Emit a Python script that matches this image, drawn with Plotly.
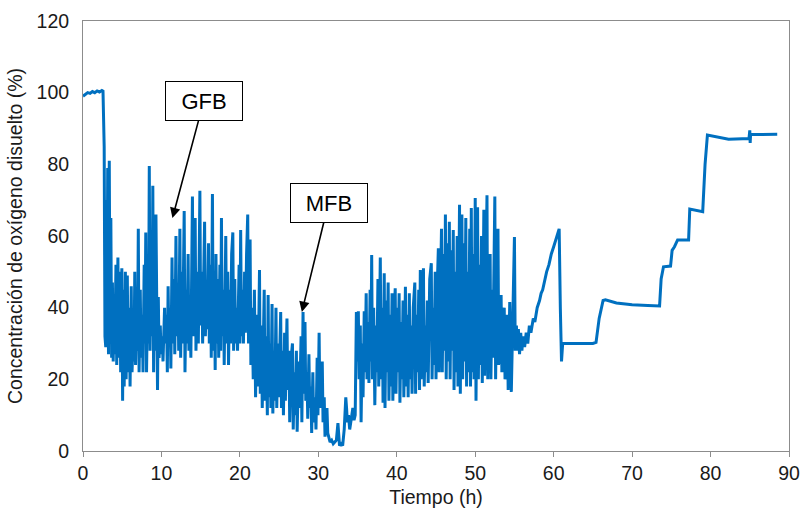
import plotly.graph_objects as go

tiempo_h = [
    0.0, 0.3, 0.6, 0.9, 1.2, 1.5, 1.8, 2.1, 2.4, 2.55, 2.7, 2.8, 2.9, 3.0, 3.05, 3.15, 3.25, 3.35, 3.45, 3.55,
    3.65, 3.75, 3.85, 3.95, 4.05, 4.2, 4.3, 4.45, 4.55, 4.7, 4.8, 4.95, 5.05, 5.15, 5.25, 5.4, 5.5, 5.65, 5.75, 5.9,
    6.0, 6.15, 6.25, 6.4, 6.5, 6.6, 6.7, 6.85, 6.95, 7.05, 7.15, 7.3, 7.4, 7.55, 7.65, 7.8, 7.9, 8.0, 8.1, 8.25,
    8.35, 8.45, 8.55, 8.7, 8.8, 8.9, 9.0, 9.1, 9.2, 9.3, 9.4, 9.5, 9.6, 9.7, 9.85, 9.95, 10.1, 10.2, 10.4, 10.5,
    10.65, 10.75, 10.85, 10.95, 11.1, 11.2, 11.35, 11.45, 11.6, 11.7, 11.85, 11.95, 12.1, 12.2, 12.35, 12.45, 12.6, 12.7, 12.9, 13.0,
    13.15, 13.25, 13.4, 13.5, 13.65, 13.75, 13.95, 14.05, 14.2, 14.3, 14.4, 14.6, 14.7, 14.9, 15.0, 15.15, 15.25, 15.5, 15.6, 15.75,
    15.85, 16.0, 16.1, 16.25, 16.35, 16.5, 16.6, 16.75, 16.85, 16.95, 17.05, 17.2, 17.3, 17.45, 17.55, 17.65, 17.75, 17.9, 18.0, 18.2,
    18.3, 18.45, 18.55, 18.7, 18.8, 18.95, 19.1, 19.2, 19.35, 19.45, 19.6, 19.7, 19.9, 20.0, 20.1, 20.2, 20.35, 20.45, 20.6, 20.7,
    20.85, 21.0, 21.1, 21.3, 21.4, 21.55, 21.7, 21.85, 22.0, 22.15, 22.3, 22.5, 22.6, 22.75, 22.85, 23.1, 23.2, 23.35, 23.5, 23.6,
    23.7, 23.85, 23.95, 24.1, 24.2, 24.35, 24.45, 24.6, 24.7, 24.85, 24.95, 25.2, 25.3, 25.45, 25.55, 25.7, 25.8, 26.0, 26.1, 26.25,
    26.35, 26.5, 26.7, 26.8, 26.95, 27.05, 27.2, 27.3, 27.5, 27.6, 27.8, 27.9, 28.05, 28.15, 28.3, 28.4, 28.55, 28.65, 28.8, 28.9,
    29.05, 29.15, 29.3, 29.4, 29.6, 29.7, 29.85, 29.95, 30.1, 30.2, 30.35, 30.5, 30.6, 30.75, 30.85, 31.0, 31.1, 31.2, 31.35, 31.5,
    31.7, 31.9, 32.1, 32.3, 32.5, 32.6, 32.7, 32.9, 33.1, 33.3, 33.5, 33.6, 33.7, 33.85, 34.0, 34.2, 34.4, 34.55, 34.7, 34.85,
    34.95, 35.1, 35.2, 35.35, 35.45, 35.6, 35.7, 35.85, 35.95, 36.1, 36.2, 36.35, 36.45, 36.6, 36.7, 36.8, 36.9, 37.05, 37.2, 37.35,
    37.45, 37.6, 37.7, 37.9, 38.0, 38.15, 38.25, 38.4, 38.5, 38.65, 38.75, 38.9, 39.0, 39.15, 39.25, 39.4, 39.5, 39.65, 39.8, 39.9,
    40.05, 40.15, 40.3, 40.4, 40.55, 40.65, 40.8, 40.9, 41.1, 41.2, 41.35, 41.45, 41.6, 41.7, 41.85, 41.95, 42.1, 42.3, 42.4, 42.55,
    42.65, 42.8, 42.9, 43.0, 43.1, 43.25, 43.4, 43.5, 43.65, 43.75, 43.9, 44.0, 44.2, 44.4, 44.5, 44.65, 44.75, 44.9, 45.0, 45.15,
    45.3, 45.4, 45.55, 45.7, 45.8, 45.95, 46.05, 46.2, 46.3, 46.45, 46.55, 46.7, 46.8, 46.95, 47.05, 47.2, 47.3, 47.45, 47.55, 47.7,
    47.8, 48.0, 48.1, 48.2, 48.3, 48.4, 48.55, 48.65, 48.8, 48.9, 49.05, 49.15, 49.3, 49.4, 49.5, 49.6, 49.75, 49.85, 50.0, 50.1,
    50.3, 50.4, 50.55, 50.65, 50.8, 50.9, 51.1, 51.2, 51.35, 51.5, 51.6, 51.75, 51.9, 52.0, 52.15, 52.25, 52.5, 52.6, 52.75, 52.9,
    53.0, 53.15, 53.3, 53.4, 53.55, 53.7, 53.8, 53.95, 54.1, 54.2, 54.4, 54.6, 54.8, 55.0, 55.1, 55.25, 55.35, 55.5, 55.65, 55.8,
    55.95, 56.1, 56.3, 56.5, 56.7, 56.9, 57.1, 57.4, 57.6, 57.9, 58.2, 58.4, 58.6, 58.9, 59.1, 59.4, 59.7, 60.0, 60.3, 60.5,
    60.7, 60.85, 61.0, 61.15, 62.0, 63.0, 64.0, 65.0, 65.4, 65.8, 66.3, 66.6, 68.0, 70.0, 72.0, 73.5, 73.7, 74.0, 74.9, 75.1,
    75.4, 75.8, 77.2, 77.35, 79.0, 79.3, 79.6, 80.5, 82.3, 84.9, 85.0, 85.05, 85.1, 88.5,
]

oxigeno_pct = [
    99.0, 99.6, 100.0, 99.8, 100.3, 100.0, 100.5, 100.2, 100.6, 100.4, 85, 32, 29, 70, 30, 79, 27, 81, 30, 65,
    26, 47, 25, 40, 27, 52, 24, 54, 26, 50, 22, 51, 14, 45, 18, 50, 20, 49, 22, 40,
    18, 46, 22, 33, 25, 50, 24, 40, 28, 62, 22, 45, 26, 38, 22, 52, 30, 61, 22, 45,
    30, 79.5, 28, 55, 32, 74, 22, 50, 28, 66, 30, 17, 43, 26, 35, 27, 32, 25, 40, 30,
    38, 22, 46, 30, 40, 23, 54, 30, 48, 27, 60, 32, 45, 28, 62, 26, 50, 30, 67, 22,
    45, 30, 55, 28, 40, 26, 71, 32, 45, 65, 28, 50, 30, 72.6, 35, 50, 30, 64, 32, 45,
    34, 58, 30, 52, 26, 71.7, 28, 45, 22.6, 55, 30, 48, 26, 52, 28, 65, 32, 45, 24, 60,
    30, 50, 24, 45, 30, 55, 61, 28, 48, 30, 40, 28, 52, 30, 61.7, 32, 45, 30, 50, 33,
    55, 66, 30, 59, 24, 40, 20, 45, 15, 38, 18, 50.5, 16, 35, 12, 45, 14, 32, 10, 43.5,
    15, 30, 12, 41, 10.5, 28, 14, 40, 12, 30, 15, 38.8, 12, 28, 10, 33, 14, 37, 17, 28,
    8, 25, 30, 6, 22, 10, 28, 5.4, 25, 12, 32, 8, 38.8, 16, 36, 14, 22, 9, 27, 12,
    18, 5, 22, 8, 15, 6, 26, 10, 33, 12, 20, 25, 8, 15, 4, 10, 12, 5, 4, 2.5,
    3, 2, 2.5, 3, 7.8, 3, 1.5, 2, 1.5, 6, 15, 12, 8, 10, 6, 9, 12, 8.6, 10, 38.8,
    25, 39, 20, 35, 8, 30, 15, 39, 22, 44, 20, 36, 19, 45, 25, 54.7, 20, 40, 12.8, 35,
    22, 48, 18, 54, 20, 40, 13.5, 49.6, 12, 42, 22, 47, 14, 38, 18, 44, 14, 36, 45.4, 16,
    40, 22, 44, 13.5, 36, 20, 42, 15, 45.8, 18, 38, 15, 44, 20, 35, 16, 40, 47, 16, 38,
    22, 45, 17, 50.5, 20, 40, 51, 18, 35, 22, 42, 19, 48, 52.4, 20, 40, 24, 50, 20, 45,
    56.6, 22, 50, 62, 22, 55, 28, 66, 20, 58, 25, 64, 20, 56, 28, 61.7, 17, 50, 22, 60,
    18, 68.7, 16, 55, 66, 20, 58, 25, 65, 18, 50, 22, 62, 18, 67.8, 22, 55, 20, 70.6, 14,
    68, 20, 52, 24, 60, 19, 67.3, 21, 55, 71.4, 20, 50, 55, 20, 45, 26, 71, 20, 50, 62,
    24, 38, 43.5, 22, 35, 40, 20, 32, 38, 17, 41.6, 16.5, 40, 59.7, 28, 35, 28, 34, 27, 33,
    28, 32, 29, 33, 30, 35, 33, 37, 36, 40, 42, 44, 45, 48, 50, 52, 55, 57, 59, 60,
    62, 40, 25, 30, 30, 30.2, 30, 30, 30.3, 37, 42, 42.2, 41.3, 40.8, 40.6, 40.5, 48, 51.4, 51.6, 56,
    57, 58.9, 58.9, 67.5, 66.8, 80, 88.2, 87.8, 87, 87.2, 89.5, 86, 88.3, 88.4,
]

x_ticks = [0, 10, 20, 30, 40, 50, 60, 70, 80, 90]
y_ticks = [0, 20, 40, 60, 80, 100, 120]

etiquetas = ["GFB", "MFB"]
punta_x = [11.4, 27.9]
punta_y = [65, 38.8]
caja_x = [15.4, 31.3]
caja_y = [97.7, 69.2]

fig = go.Figure()
fig.add_trace(go.Scatter(
    x=tiempo_h, y=oxigeno_pct, mode="lines",
    line=dict(color="#0070C0", width=3), showlegend=False,
))

for lab, px_, py_, bx, by in zip(etiquetas, punta_x, punta_y, caja_x, caja_y):
    fig.add_annotation(
        x=px_, y=py_, ax=bx, ay=by, axref="x", ayref="y", xref="x", yref="y",
        text=lab, showarrow=True, arrowhead=2, arrowsize=1.3, arrowwidth=1.6,
        arrowcolor="black", bordercolor="black", borderwidth=1, borderpad=3,
        bgcolor="white", width=70, height=32,
        font=dict(family="Liberation Sans, Arial", size=22, color="#000000"),
    )

axis_font = dict(family="Liberation Sans, Arial", size=19.5, color="#1a1a1a")
fig.update_layout(
    width=807, height=513,
    margin=dict(l=83, r=18, t=21, b=62),
    plot_bgcolor="white", paper_bgcolor="white",
    xaxis=dict(
        range=[0, 90], tickvals=x_ticks, showgrid=False, zeroline=False,
        showline=True, linecolor="#8c8c8c", linewidth=1, mirror=True,
        ticks="outside", ticklen=5, tickcolor="#8c8c8c", automargin=False,
        tickfont=axis_font,
        title=dict(text="Tiempo (h)", font=axis_font, standoff=6),
    ),
    yaxis=dict(
        range=[0, 120], tickvals=y_ticks, showgrid=False, zeroline=False,
        showline=True, linecolor="#8c8c8c", linewidth=1, mirror=True,
        ticks="", ticklabelstandoff=9, automargin=False,
        tickfont=axis_font,
        title=dict(text="Concentración de oxígeno disuelto (%)", font=axis_font, standoff=8),
    ),
)

fig.write_html("out.html")
